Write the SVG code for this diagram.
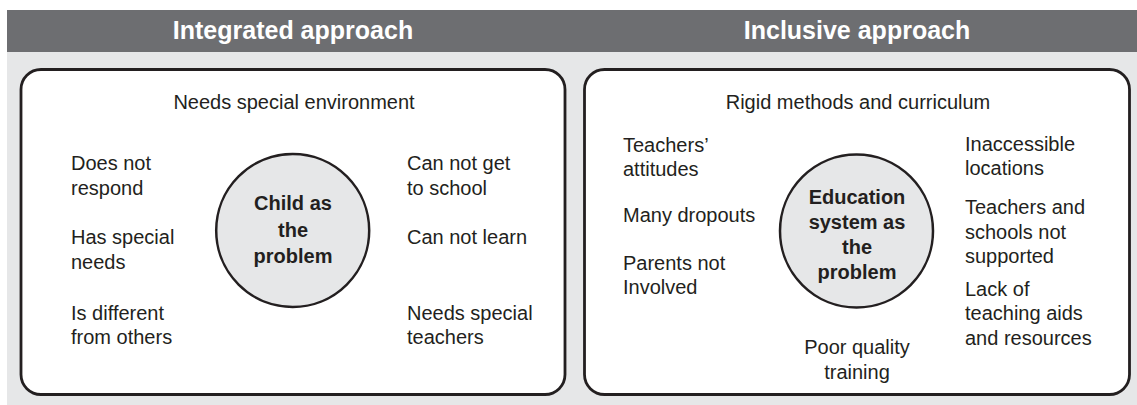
<svg xmlns="http://www.w3.org/2000/svg" width="1137" height="405" viewBox="0 0 1137 405">
<style>
.hdr{font-family:"Liberation Sans",Arial,sans-serif;font-size:25px;font-weight:bold;fill:#ffffff;text-anchor:middle}
.t{font-family:"Liberation Sans",Arial,sans-serif;font-size:20px;fill:#231f20}
.c{text-anchor:middle}
.b{font-weight:bold;text-anchor:middle}
.box{fill:#ffffff;stroke:#231f20;stroke-width:2.8}
.circ{fill:#e6e7e8;stroke:#231f20;stroke-width:2.5}
</style>
<rect x="7" y="52" width="1130" height="353" fill="#e6e7e8"/>
<rect x="7" y="10" width="1130" height="42" fill="#6d6e71"/>
<text class="hdr" x="293" y="39">Integrated approach</text>
<text class="hdr" x="857" y="39">Inclusive approach</text>

<g id="integrated-panel">
<rect class="box" x="21" y="69.5" width="544" height="325" rx="20"/>
<text class="t c" x="294" y="109">Needs special environment</text>
<text class="t" x="71" y="170">Does not</text>
<text class="t" x="71" y="195">respond</text>
<text class="t" x="71" y="244">Has special</text>
<text class="t" x="71" y="269">needs</text>
<text class="t" x="71" y="320">Is different</text>
<text class="t" x="71" y="344">from others</text>
<text class="t" x="407" y="170">Can not get</text>
<text class="t" x="407" y="195">to school</text>
<text class="t" x="407" y="244">Can not learn</text>
<text class="t" x="407" y="320">Needs special</text>
<text class="t" x="407" y="344">teachers</text>
</g>
<g id="child-problem">
<circle class="circ" cx="292.7" cy="230.5" r="76.5"/>
<text class="t b" x="293" y="210">Child as</text>
<text class="t b" x="293" y="237">the</text>
<text class="t b" x="293" y="263">problem</text>
</g>

<g id="inclusive-panel">
<rect class="box" x="584.5" y="69.5" width="545" height="325" rx="20"/>
<text class="t c" x="858" y="109">Rigid methods and curriculum</text>
<text class="t" x="623" y="152">Teachers’</text>
<text class="t" x="623" y="176">attitudes</text>
<text class="t" x="623" y="222">Many dropouts</text>
<text class="t" x="623" y="270">Parents not</text>
<text class="t" x="623" y="294">Involved</text>
<text class="t" x="965" y="151">Inaccessible</text>
<text class="t" x="965" y="175">locations</text>
<text class="t" x="965" y="214">Teachers and</text>
<text class="t" x="965" y="239">schools not</text>
<text class="t" x="965" y="263">supported</text>
<text class="t" x="965" y="296">Lack of</text>
<text class="t" x="965" y="320">teaching aids</text>
<text class="t" x="965" y="345">and resources</text>
<text class="t c" x="857" y="354">Poor quality</text>
<text class="t c" x="857" y="379">training</text>
</g>
<g id="education-problem">
<circle class="circ" cx="856.5" cy="231" r="76.5"/>
<text class="t b" x="857" y="204">Education</text>
<text class="t b" x="857" y="229">system as</text>
<text class="t b" x="857" y="254">the</text>
<text class="t b" x="857" y="279">problem</text>
</g>
</svg>
